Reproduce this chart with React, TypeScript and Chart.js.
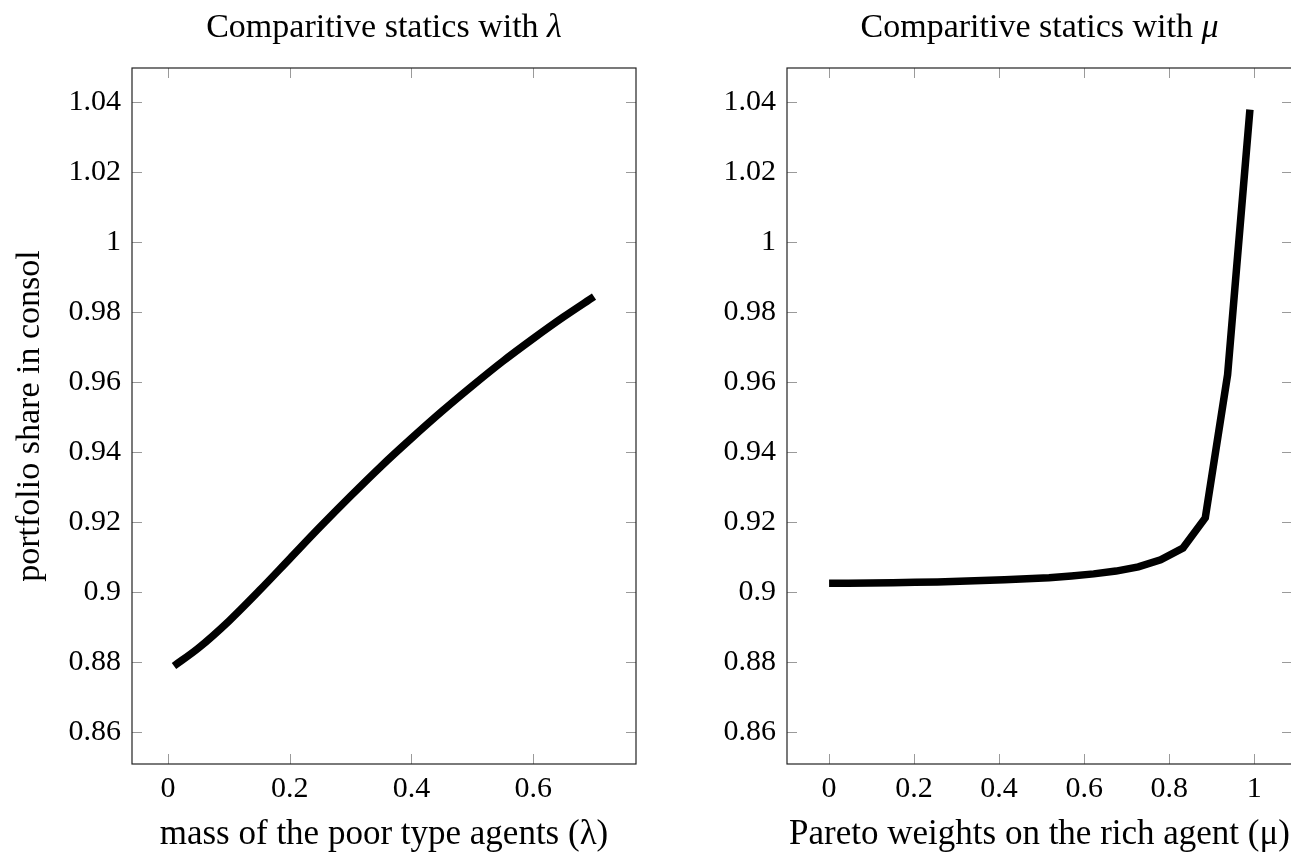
import React, { useEffect, useRef } from "react";
import { Chart, registerables } from "chart.js";

Chart.register(...registerables);

// ---------- data ----------
const LAMBDA_X = [0.01, 0.05, 0.1, 0.15, 0.2, 0.25, 0.3, 0.35, 0.4, 0.45, 0.5, 0.55, 0.6, 0.65, 0.7];
const LAMBDA_Y = [0.879, 0.8841, 0.8918, 0.9005, 0.9096, 0.9187, 0.9275, 0.936, 0.944, 0.9517, 0.959, 0.966, 0.9725, 0.9787, 0.9845];

const MU_X = [0, 0.045, 0.0975, 0.15, 0.2025, 0.255, 0.3075, 0.36, 0.4125, 0.465, 0.5175, 0.57, 0.6225, 0.675, 0.7275, 0.78, 0.8325, 0.885, 0.9375, 0.99];
const MU_Y = [0.9026, 0.9026, 0.9027, 0.9028, 0.9029, 0.903, 0.9032, 0.9034, 0.9036, 0.9039, 0.9042, 0.9047, 0.9053, 0.9061, 0.9073, 0.9093, 0.9127, 0.9213, 0.9622, 1.0379];

const LEFT_X_TICKS = [0, 0.2, 0.4, 0.6];
const RIGHT_X_TICKS = [0, 0.2, 0.4, 0.6, 0.8, 1];
const Y_TICKS = [0.86, 0.88, 0.9, 0.92, 0.94, 0.96, 0.98, 1, 1.02, 1.04];

const FONT_FAMILY = "'Liberation Serif', 'Times New Roman', serif";

const fmt = (v: number) => String(Number(Number(v).toFixed(4)));

const framePlugin = {
  id: "frame",
  beforeDatasetsDraw(chart: any, _args: any, opts: any) {
    const { ctx, chartArea, scales } = chart;
    const { left, right, top, bottom } = chartArea;
    const x = scales.x;
    const y = scales.y;
    ctx.save();
    ctx.strokeStyle = "#9a9a9a";
    ctx.lineWidth = 1;
    const len = 10;
    ctx.beginPath();
    (opts.xTicks || []).forEach((v: number) => {
      const px = Math.round(x.getPixelForValue(v)) + 0.5;
      ctx.moveTo(px, bottom);
      ctx.lineTo(px, bottom - len);
      ctx.moveTo(px, top);
      ctx.lineTo(px, top + len);
    });
    (opts.yTicks || []).forEach((v: number) => {
      const py = Math.round(y.getPixelForValue(v)) + 0.5;
      ctx.moveTo(left, py);
      ctx.lineTo(left + len, py);
      ctx.moveTo(right, py);
      ctx.lineTo(right - len, py);
    });
    ctx.stroke();
    ctx.strokeStyle = "#222";
    ctx.lineWidth = 1.2;
    ctx.strokeRect(left, top, right - left, bottom - top);
    ctx.restore();
  },
  afterDraw(chart: any, _args: any, opts: any) {
    const { ctx, chartArea } = chart;
    const cx = (chartArea.left + chartArea.right) / 2;
    ctx.save();
    ctx.fillStyle = "#000";
    ctx.textBaseline = "middle";
    const normal = `34px ${FONT_FAMILY}`;
    const ital = `italic 34px ${FONT_FAMILY}`;
    ctx.font = normal;
    const w1 = ctx.measureText(opts.title).width;
    ctx.font = ital;
    const w2 = ctx.measureText(opts.greek).width;
    const start = cx - (w1 + w2) / 2;
    ctx.textAlign = "left";
    ctx.font = normal;
    ctx.fillText(opts.title, start, 28);
    ctx.font = ital;
    ctx.fillText(opts.greek, start + w1, 28);
    ctx.restore();
  },
};

type PanelProps = {
  xs: number[];
  ys: number[];
  xMin: number;
  xMax: number;
  xTicks: number[];
  smooth: boolean;
  title: string;
  greek: string;
  xTitle: string;
  yTitle?: string;
  canvasLeft: number;
  canvasWidth: number;
  areaLeft: number;
  areaRight: number;
};

function Panel(p: PanelProps) {
  const ref = useRef<HTMLCanvasElement | null>(null);
  useEffect(() => {
    if (!ref.current) return;
    const tickFont = { family: FONT_FAMILY, size: 30 };
    const titleFont = { family: FONT_FAMILY, size: 35 };
    const chart = new Chart(ref.current, {
      type: "line",
      data: {
        datasets: [
          {
            data: p.xs.map((x, i) => ({ x, y: p.ys[i] })),
            borderColor: "#000",
            borderWidth: 7.5,
            pointRadius: 0,
            tension: 0,
            cubicInterpolationMode: p.smooth ? "monotone" : "default",
            fill: false,
          },
        ],
      },
      options: {
        animation: false,
        responsive: false,
        maintainAspectRatio: false,
        layout: {
          padding: { top: 68, right: p.canvasWidth - (p.areaRight - p.canvasLeft), bottom: 0, left: 0 },
        },
        plugins: {
          legend: { display: false },
          tooltip: { enabled: false },
          frame: { title: p.title, greek: p.greek, xTicks: p.xTicks, yTicks: Y_TICKS },
        } as any,
        scales: {
          x: {
            type: "linear",
            min: p.xMin,
            max: p.xMax,
            afterBuildTicks: (s: any) => {
              s.ticks = p.xTicks.map((v) => ({ value: v }));
            },
            afterFit: (s: any) => {
              s.height = 856 - 764;
            },
            grid: { display: false, drawTicks: false },
            border: { display: false },
            ticks: { autoSkip: false, maxRotation: 0, padding: 7, color: "#000", font: tickFont, callback: (v: any) => fmt(v) },
            title: { display: true, text: p.xTitle, color: "#000", font: titleFont, padding: { top: 0, bottom: 0 } },
          },
          y: {
            type: "linear",
            min: 0.851,
            max: 1.0498,
            afterBuildTicks: (s: any) => {
              s.ticks = Y_TICKS.map((v) => ({ value: v }));
            },
            afterFit: (s: any) => {
              s.width = p.areaLeft - p.canvasLeft;
            },
            grid: { display: false, drawTicks: false },
            border: { display: false },
            ticks: { autoSkip: false, padding: 11, color: "#000", font: tickFont, callback: (v: any) => fmt(v) },
            title: { display: !!p.yTitle, text: p.yTitle || "", color: "#000", font: { family: FONT_FAMILY, size: 34 }, padding: { top: 10, bottom: 0 } },
          },
        },
      },
      plugins: [framePlugin],
    } as any);
    return () => chart.destroy();
  }, []);
  return (
    <canvas
      ref={ref}
      width={p.canvasWidth}
      height={856}
      style={{ position: "absolute", left: p.canvasLeft, top: 0, width: p.canvasWidth, height: 856 }}
    />
  );
}

export default function App() {
  return (
    <div style={{ position: "fixed", left: 0, top: 0, width: 1291, height: 856, overflow: "hidden", background: "#fff" }}>
      <Panel
        xs={LAMBDA_X}
        ys={LAMBDA_Y}
        xMin={-0.059}
        xMax={0.769}
        xTicks={LEFT_X_TICKS}
        smooth={true}
        title="Comparitive statics with "
        greek="λ"
        xTitle="mass of the poor type agents (λ)"
        yTitle="portfolio share in consol"
        canvasLeft={0}
        canvasWidth={660}
        areaLeft={132}
        areaRight={636}
      />
      <Panel
        xs={MU_X}
        ys={MU_Y}
        xMin={-0.099}
        xMax={1.089}
        xTicks={RIGHT_X_TICKS}
        smooth={false}
        title="Comparitive statics with "
        greek="μ"
        xTitle="Pareto weights on the rich agent (μ)"
        canvasLeft={660}
        canvasWidth={660}
        areaLeft={787}
        areaRight={1292}
      />
    </div>
  );
}
